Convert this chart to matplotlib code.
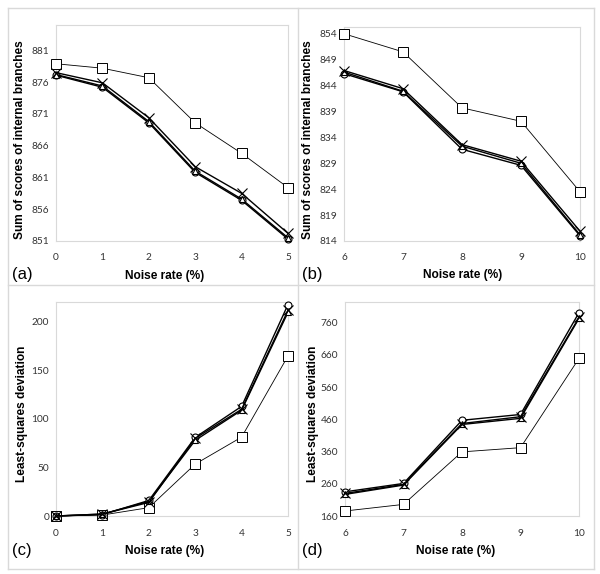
import matplotlib
matplotlib.use("Agg")
import matplotlib.pyplot as plt
from matplotlib.lines import Line2D

W, H = 600, 574

# ---------------- data ----------------
x_ab_left = [0, 1, 2, 3, 4, 5]
x_ab_right = [6, 7, 8, 9, 10]

# (a) Sum of scores of internal branches, noise 0-5
a_square = [878.9, 878.2, 876.7, 869.6, 864.8, 859.4]
a_cross = [877.5, 875.9, 870.4, 862.7, 858.5, 852.2]
a_triangle = [877.2, 875.4, 869.8, 862.0, 857.6, 851.5]
a_circle = [877.1, 875.2, 869.6, 861.8, 857.4, 851.3]

# (b) Sum of scores of internal branches, noise 6-10
b_square = [854.0, 850.5, 839.7, 837.1, 823.5]
b_cross = [846.9, 843.4, 832.6, 829.4, 815.9]
b_triangle = [846.6, 842.9, 832.3, 829.0, 815.2]
b_circle = [846.3, 842.8, 831.7, 828.6, 815.0]

# (c) Least-squares deviation, noise 0-5
c_square = [0.0, 1.0, 8.6, 53.5, 81.3, 165.0]
c_cross = [0.0, 2.0, 14.0, 80.0, 110.0, 212.0]
c_triangle = [0.0, 2.0, 15.0, 78.0, 109.0, 210.0]
c_circle = [0.0, 1.5, 16.0, 81.0, 113.0, 218.0]

# (d) Least-squares deviation, noise 6-10
d_square = [175.5, 196.0, 359.0, 372.0, 649.0]
d_cross = [230.0, 258.0, 447.0, 468.0, 776.0]
d_triangle = [227.0, 256.0, 444.0, 463.0, 773.0]
d_circle = [235.0, 261.0, 457.0, 475.0, 791.0]

yticks_a = [851, 856, 861, 866, 871, 876, 881]
yticks_b = [814, 819, 824, 829, 834, 839, 844, 849, 854]
yticks_c = [0, 50, 100, 150, 200]
yticks_d = [160, 260, 360, 460, 560, 660, 760]

panel_labels = ["(a)", "(b)", "(c)", "(d)"]
xlabel = "Noise rate (%)"
ylabel_top = "Sum of scores of internal branches"
ylabel_bottom = "Least-squares deviation"

# ---------------- figure ----------------
fig = plt.figure(figsize=(W / 100, H / 100), dpi=100)
fig.patch.set_facecolor("white")

FRAME = "#d9d9d9"


def fx(px):
    return px / W


def fy(py):
    return 1 - py / H


def hline(y, x0, x1):
    fig.add_artist(Line2D([fx(x0), fx(x1)], [fy(y), fy(y)], color=FRAME, lw=1.0))


def vline(x, y0, y1):
    fig.add_artist(Line2D([fx(x), fx(x)], [fy(y0), fy(y1)], color=FRAME, lw=1.0))


hline(8, 8, 594)
hline(285, 8, 594)
hline(569, 8, 594)
vline(8, 8, 569)
vline(298, 8, 569)
vline(594, 8, 569)

TICKFONT = "Lato"
LABFONT = "Liberation Sans"


def make_panel(box, xs, series, yticks, ylim, ylab, lab, lab_xy, xlab_xy, ylab_xy):
    left, top, right, bottom = box
    ax = fig.add_axes([fx(left), fy(bottom), (right - left) / W, (bottom - top) / H])
    sq, cr, tr, ci = series
    ax.plot(xs, sq, color="black", lw=0.6, marker="s", ms=7.5, mfc="white",
            mec="black", mew=0.7, clip_on=False, zorder=3)
    ax.plot(xs, ci, color="black", lw=1.0, marker="o", ms=5, mfc="white",
            mec="black", mew=0.8, clip_on=False, zorder=4)
    ax.plot(xs, tr, color="black", lw=1.0, marker="^", ms=5, mfc="white",
            mec="black", mew=0.8, clip_on=False, zorder=4)
    ax.plot(xs, cr, color="black", lw=1.0, marker="x", ms=6.5,
            mec="black", mew=0.8, clip_on=False, zorder=5)
    ax.set_xlim(xs[0], xs[-1])
    ax.set_ylim(*ylim)
    ax.set_xticks(xs)
    ax.set_yticks(yticks)
    ax.tick_params(length=0, labelsize=7.3, pad=5, colors="#333333")
    ax.tick_params(axis="x", pad=9)
    for t in ax.get_xticklabels() + ax.get_yticklabels():
        t.set_fontfamily(TICKFONT)
    for s in ax.spines.values():
        s.set_color(FRAME)
        s.set_linewidth(0.8)
    fig.text(fx(lab_xy[0]), fy(lab_xy[1]), lab, fontsize=12, family=LABFONT,
             ha="left", va="center")
    fig.text(fx(xlab_xy[0]), fy(xlab_xy[1]), xlabel, fontsize=8.6, family=LABFONT,
             fontweight="bold", ha="center", va="center")
    fig.text(fx(ylab_xy[0]), fy(ylab_xy[1]), ylab, fontsize=8.6, family=LABFONT,
             fontweight="bold", ha="center", va="center", rotation=90)
    return ax


make_panel((56, 25, 288, 241), x_ab_left, (a_square, a_cross, a_triangle, a_circle),
           yticks_a, (851, 885), ylabel_top, panel_labels[0],
           (12, 274), (165, 276), (20, 140))
make_panel((344, 27, 580, 241), x_ab_right, (b_square, b_cross, b_triangle, b_circle),
           yticks_b, (814, 855.3), ylabel_top, panel_labels[1],
           (302, 274), (463, 275), (308, 140))
make_panel((56, 302, 288, 516), x_ab_left, (c_square, c_cross, c_triangle, c_circle),
           yticks_c, (0, 220.6), ylabel_bottom, panel_labels[2],
           (12, 550), (165, 551), (22, 414))
make_panel((345, 302, 579, 516), x_ab_right, (d_square, d_cross, d_triangle, d_circle),
           yticks_d, (160, 824), ylabel_bottom, panel_labels[3],
           (302, 550), (456, 551), (313, 414))

fig.savefig("out.png", dpi=100, facecolor="white")
